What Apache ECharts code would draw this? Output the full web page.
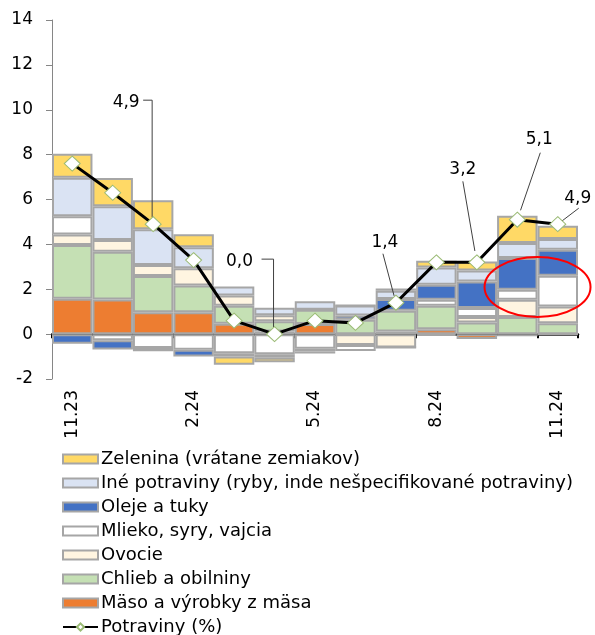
<!DOCTYPE html>
<html>
<head>
<meta charset="utf-8">
<script src="https://cdn.jsdelivr.net/npm/echarts@6/dist/echarts.min.js"></script>
<style>
html,body{margin:0;padding:0;background:#fff;}
#chart{width:595px;height:635px;}
</style>
</head>
<body>
<div id="chart"></div>
<script>
// ---- data ----
var categories = ['11.23','12.23','1.24','2.24','3.24','4.24','5.24','6.24','7.24','8.24','9.24','10.24','11.24'];
var maso     = [1.58, 1.54, 0.98, 0.98, 0.46, 0.12, 0.45, 0.00, 0.12, 0.22, -0.22, -0.10, 0.00];
var chlieb   = [2.39, 2.13, 1.61, 1.19, 0.80, 0.45, 0.64, 0.64, 0.92, 1.04, 0.52, 0.76, 0.49];
var ovocie   = [0.47, 0.52, 0.49, 0.77, 0.46, 0.27, 0.00, -0.48, -0.60, -0.08, 0.24, 0.77, 0.74];
var mlieko   = [0.81, -0.27, -0.62, -0.70, -0.85, -0.90, -0.65, -0.27, 0.00, 0.27, 0.40, 0.45, 1.37];
var oleje    = [-0.43, -0.42, -0.14, -0.30, -0.15, -0.15, -0.12, 0.19, 0.53, 0.67, 1.19, 1.41, 1.16];
var ine      = [1.72, 1.51, 1.59, 0.93, 0.40, 0.34, 0.37, 0.45, 0.36, 0.77, 0.49, 0.67, 0.48];
var zelenina = [1.07, 1.26, 1.30, 0.58, -0.37, -0.20, -0.09, 0.00, 0.10, 0.30, 0.40, 1.22, 0.59];
var potraviny = [7.6, 6.3, 4.9, 3.3, 0.6, 0.0, 0.6, 0.5, 1.4, 3.2, 3.2, 5.1, 4.9];
var labeledPoints = [2, 5, 8, 10, 11, 12];
var yTicks = {min: -2, max: 14, interval: 2};

var seriesNames = {
  maso: 'Mäso a výrobky z mäsa',
  chlieb: 'Chlieb a obilniny',
  ovocie: 'Ovocie',
  mlieko: 'Mlieko, syry, vajcia',
  oleje: 'Oleje a tuky',
  ine: 'Iné potraviny (ryby, inde nešpecifikované potraviny)',
  zelenina: 'Zelenina (vrátane zemiakov)',
  potraviny: 'Potraviny (%)'
};

// ---- styles / layout (not data) ----
var FONT = 'DejaVu Sans';
var FS = 17;
var LEGEND_FS = 18;
var colors = {
  maso: '#ED7D31', chlieb: '#C5E0B4', ovocie: '#FFF5E1', mlieko: '#FFFFFF',
  oleje: '#4472C4', ine: '#DAE3F3', zelenina: '#FFD966'
};
// label offsets relative to the marker centre + leader-line shape
var labelPlacement = {
  2:  {dx: -27, dy: -122, elbow: true, half: 17},
  5:  {dx: -35, dy: -73,  elbow: true, half: 22},
  8:  {dx: -11, dy: -60,  from: [-2, 11]},
  10: {dx: -14, dy: -93,  from: [0, 12]},
  11: {dx: 22,  dy: -80,  from: [1, 13]},
  12: {dx: 20,  dy: -26,  from: [1, 10]}
};

function barSeries(key, arr) {
  return {
    name: seriesNames[key],
    type: 'bar',
    stack: 'total',
    barCategoryGap: '0%',
    data: arr,
    itemStyle: {color: colors[key], borderColor: '#A6A6A6', borderWidth: 2},
    emphasis: {disabled: true}
  };
}

var lineData = potraviny.map(function (v, i) {
  if (labeledPoints.indexOf(i) >= 0) return {value: v, label: {show: true}};
  return {value: v};
});

var legendOrder = ['zelenina', 'ine', 'oleje', 'mlieko', 'ovocie', 'chlieb', 'maso'];
var legendData = legendOrder.map(function (k) { return {name: seriesNames[k], icon: 'rect'}; });
legendData.push({name: seriesNames.potraviny});

var chart = echarts.init(document.getElementById('chart'), null, {renderer: 'canvas'});

var option = {
  animation: false,
  textStyle: {fontFamily: FONT},
  grid: {left: 52, right: 17, top: 20, bottom: 256, containLabel: false},
  legend: {
    orient: 'vertical',
    left: 62,
    top: 450,
    height: 200,
    padding: 0,
    itemWidth: 35,
    itemHeight: 9,
    itemGap: 6,
    textStyle: {fontFamily: FONT, fontSize: LEGEND_FS, color: '#000', lineHeight: 18, padding: [0, 0, 0, -2]},
    data: legendData
  },
  xAxis: [{
    type: 'category',
    data: categories,
    position: 'bottom',
    axisLine: {show: false, onZero: false},
    axisTick: {show: false},
    axisLabel: {interval: 2, rotate: 90, margin: 11, fontFamily: FONT, fontSize: FS, color: '#000'}
  }, {
    type: 'category',
    data: categories,
    position: 'bottom',
    axisLine: {show: true, onZero: true, lineStyle: {color: '#000', width: 2.5}},
    axisTick: {show: true, interval: 2, length: 4, lineStyle: {color: '#000', width: 2}},
    axisLabel: {show: false}
  }],
  yAxis: {
    type: 'value',
    min: yTicks.min, max: yTicks.max, interval: yTicks.interval,
    axisLine: {show: true, lineStyle: {color: '#868686', width: 1}},
    axisTick: {show: true, length: 6, lineStyle: {color: '#868686'}},
    splitLine: {show: false},
    axisLabel: {margin: 19, fontFamily: FONT, fontSize: FS, color: '#000'}
  },
  series: [
    barSeries('maso', maso),
    barSeries('chlieb', chlieb),
    barSeries('ovocie', ovocie),
    barSeries('mlieko', mlieko),
    barSeries('oleje', oleje),
    barSeries('ine', ine),
    barSeries('zelenina', zelenina),
    {
      name: seriesNames.potraviny,
      type: 'line',
      data: lineData,
      z: 10,
      symbol: 'diamond',
      symbolSize: [16, 15],
      showAllSymbol: true,
      lineStyle: {color: '#000', width: 3},
      itemStyle: {color: '#FFFFFF', borderColor: '#9BBB75', borderWidth: 1},
      emphasis: {disabled: true},
      label: {
        show: false,
        fontFamily: FONT, fontSize: FS, color: '#000',
        formatter: function (p) { return p.value.toFixed(1).replace('.', ','); }
      },
      labelLayout: function (p) {
        var c = labelPlacement[p.dataIndex];
        if (!c) return {};
        var cx = p.rect.x + p.rect.width / 2;
        var cy = p.rect.y + p.rect.height / 2;
        return {x: cx + c.dx, y: cy + c.dy, align: 'center', verticalAlign: 'middle'};
      }
    }
  ]
};

chart.setOption(option);

// leader lines from labels to markers, positioned through the axis scales
var graphics = [];
labeledPoints.forEach(function (i) {
  var c = labelPlacement[i];
  var pt = chart.convertToPixel({xAxisIndex: 0, yAxisIndex: 0}, [i, potraviny[i]]);
  var cx = pt[0], cy = pt[1];
  var lx = cx + c.dx, ly = cy + c.dy;
  var pts;
  if (c.elbow) {
    pts = [[lx + c.half, ly - 2], [cx - 1, ly - 2], [cx - 1, cy - 7]];
  } else {
    var sx = lx + c.from[0], sy = ly + c.from[1];
    var ex = cx + (sx - cx) * 0.14, ey = cy + (sy - cy) * 0.14;
    pts = [[sx, sy], [ex, ey]];
  }
  graphics.push({
    type: 'polyline', z: 5, silent: true,
    shape: {points: pts},
    style: {stroke: '#404040', lineWidth: 1, fill: null}
  });
});

// red highlight ellipse around the last two bars
var p1 = chart.convertToPixel({xAxisIndex: 0, yAxisIndex: 0}, [11, 2.1]);
var p2 = chart.convertToPixel({xAxisIndex: 0, yAxisIndex: 0}, [12, 2.1]);
graphics.push({
  type: 'ellipse',
  z: 100,
  silent: true,
  shape: {cx: (p1[0] + p2[0]) / 2, cy: p1[1], rx: 53, ry: 30},
  style: {fill: null, stroke: '#FF0000', lineWidth: 2}
});
chart.setOption({graphic: graphics});
</script>
</body>
</html>
